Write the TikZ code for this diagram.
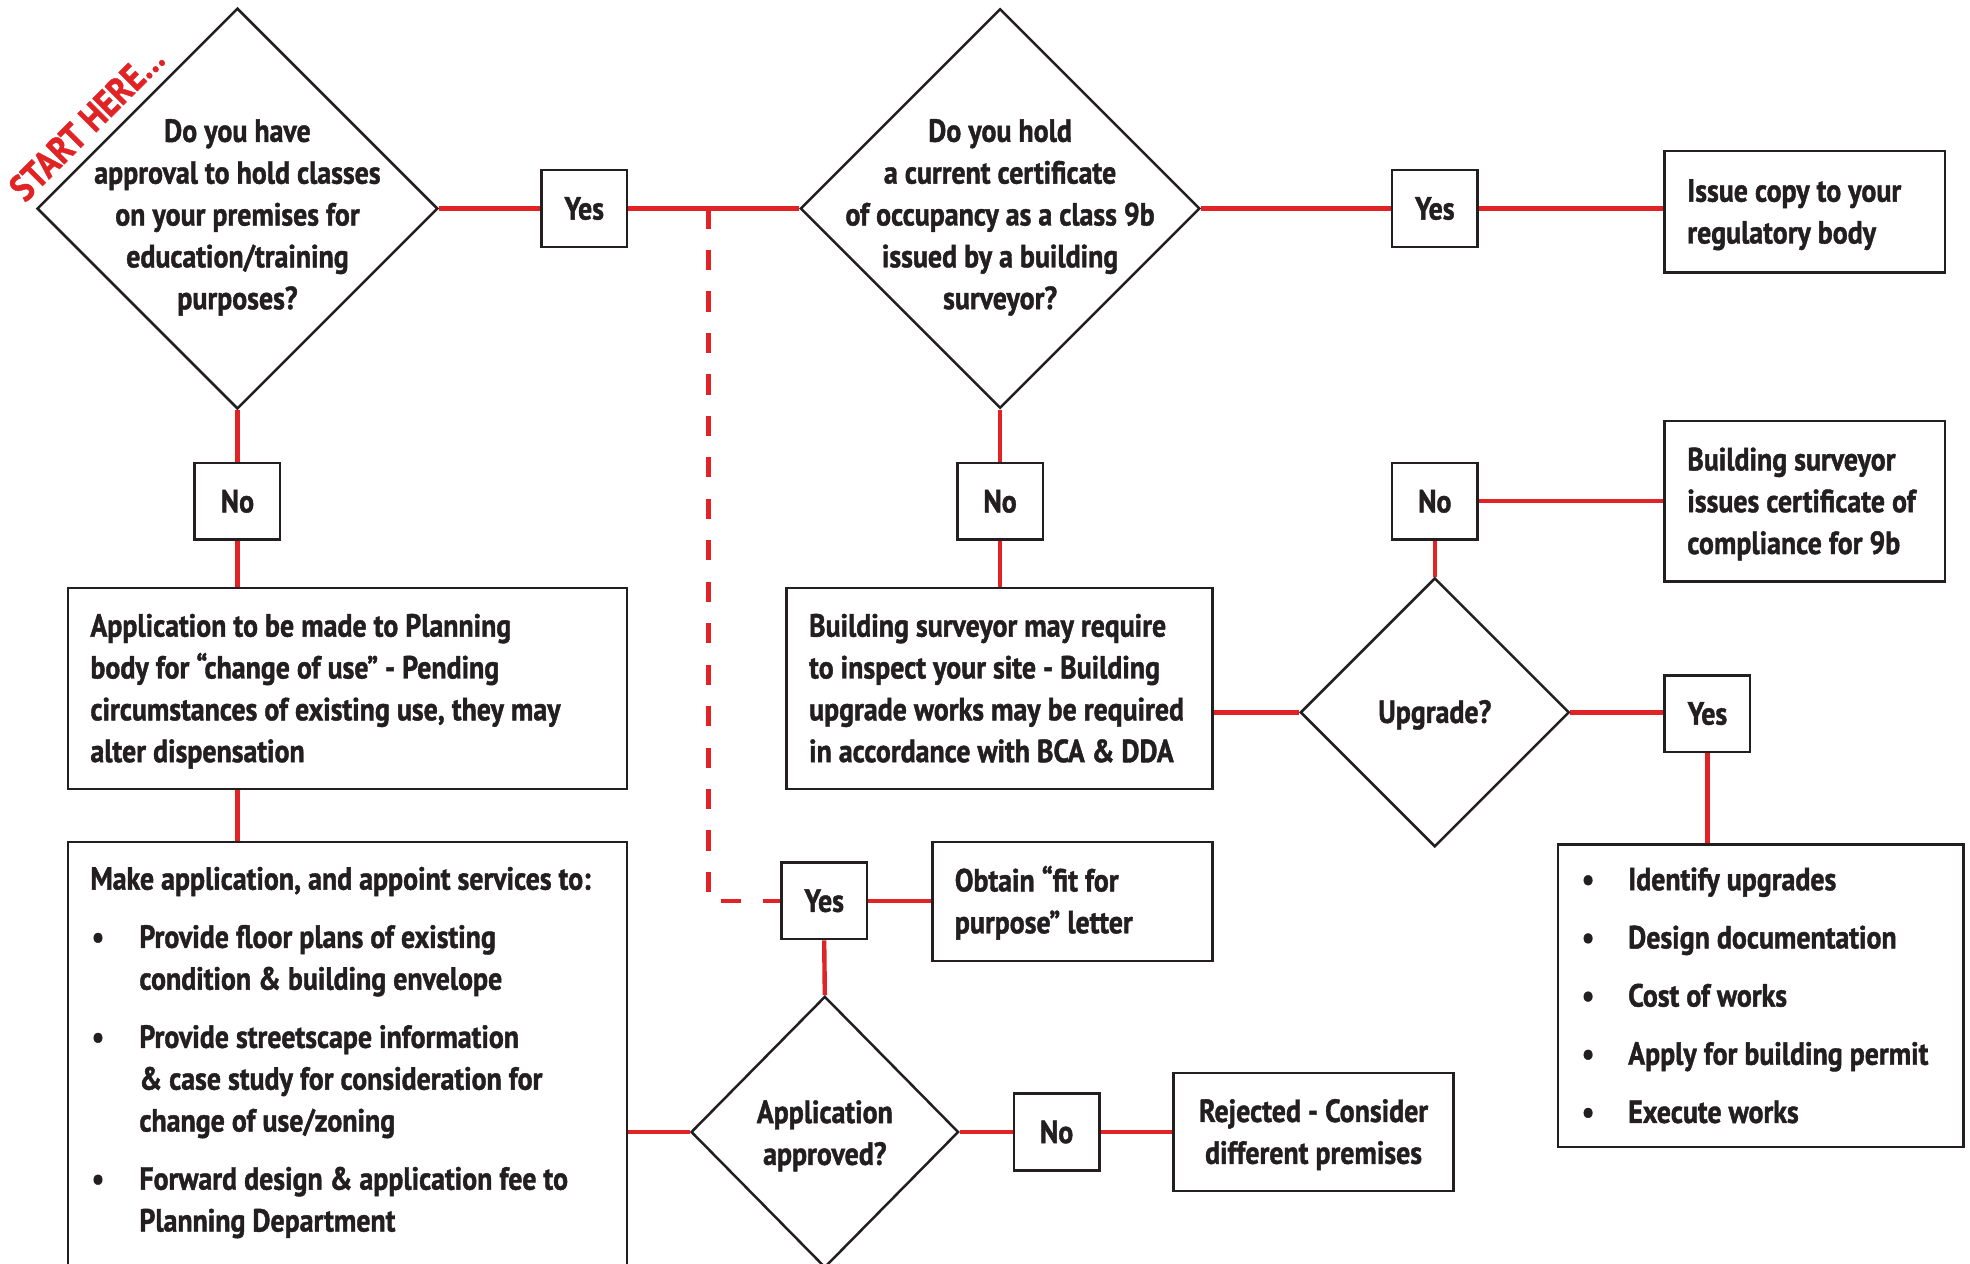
\documentclass[tikz,border=0pt]{standalone}
\usepackage{fontspec}
\setmainfont{PT Sans}[FakeStretch=0.87, BoldFeatures={FakeBold=1.3}]
\usetikzlibrary{shapes.geometric}
\definecolor{myred}{RGB}{226,35,38}
\definecolor{ink}{RGB}{35,31,32}
\newcommand\fsz{\fontsize{25.5pt}{33.3pt}\selectfont\bfseries}
\newcommand\tlines[2]{\raisebox{-2pt}[\height][\depth]{\makebox[#1][l]{\begin{tabular}{@{}l@{}}#2\end{tabular}}}}
\newcommand\bulB{\makebox[39pt][l]{\hspace*{1pt}\textbullet}}
\newcommand\bulE{\makebox[38pt][l]{\hspace*{1pt}\textbullet}}
\pgfdeclarelayer{background}
\pgfsetlayers{background,main}
\tikzset{
  lbl/.style={draw=ink, line width=2pt, fill=white, rectangle, minimum width=68pt, minimum height=61pt, inner sep=0pt},
  dia/.style={draw=ink, line width=2pt, diamond, inner sep=0pt, fill=white},
  boxn/.style={draw=ink, line width=2pt, rectangle, inner xsep=18pt, inner ysep=0pt, fill=white},
  conn/.style={draw=myred, line width=3.5pt},
  dashline/.style={draw=myred, line width=3.5pt, dash pattern=on 16pt off 17pt},
  qtxt/.style={align=center, inner sep=0pt},
}
\begin{document}
\begin{tikzpicture}[x=1pt, y=-1pt, every node/.style={font=\fsz, text=ink}]
\useasboundingbox (0,0) rectangle (1568,1006);
\clip (0,0) rectangle (1568,1006);

% first decision
\node[dia, minimum width=319pt, minimum height=319pt] (d1) at (189,166) {};
\node[qtxt] (d1t) at (189,173) {Do you have\\approval to hold classes\\on your premises for\\education/training\\purposes?};
\node[text=myred, rotate=45, inner sep=0pt, font=\fontsize{30pt}{36pt}\selectfont\bfseries] (start) at (69,98) {START HERE…};
\node[lbl] (y1) at (465,166) {Yes};
\coordinate (j) at (564,166);

% second decision
\node[dia, minimum width=318pt, minimum height=318pt] (d2) at (796,166) {};
\node[qtxt] (d2t) at (796,173) {Do you hold\\a current certificate\\of occupancy as a class 9b\\issued by a building\\surveyor?};
\node[lbl] (y2) at (1142,166) {Yes};
\node[boxn, minimum width=223pt, minimum height=97pt] (issue) at (1436.5,168.5) {\tlines{187pt}{Issue copy to your\\regulatory body}};

% left column
\node[lbl] (n1) at (189,399) {No};
\node[boxn, minimum width=445pt, minimum height=160pt] (boxA) at (276.5,548) {\tlines{409pt}{Application to be made to Planning\\body for “change of use” - Pending\\circumstances of existing use, they may\\alter dispensation}};
\node[boxn, minimum width=445pt, minimum height=345pt] (boxB) at (276.5,842.5) {\tlines{409pt}{Make application, and appoint services to:\\[13pt]
\bulB Provide floor plans of existing\\
\hspace*{39pt}condition \& building envelope\\[13pt]
\bulB Provide streetscape information\\
\hspace*{39pt}\& case study for consideration for\\
\hspace*{39pt}change of use/zoning\\[13pt]
\bulB Forward design \& application fee to\\
\hspace*{39pt}Planning Department\\[14pt]}};

% application approved
\node[dia, minimum width=213pt, minimum height=216pt] (d3) at (656.5,901) {};
\node[qtxt] (d3t) at (656.5,904) {Application\\approved?};
\node[lbl] (y3) at (656,717) {Yes};
\node[boxn, minimum width=223pt, minimum height=95pt] (fit) at (853.5,717.5) {\tlines{187pt}{Obtain “fit for\\purpose” letter}};
\node[lbl] (n3) at (841,901) {No};
\node[boxn, minimum width=223pt, minimum height=94pt, align=center] (rej) at (1045.5,901) {\raisebox{-2pt}[\height][\depth]{\begin{tabular}{@{}c@{}}Rejected - Consider\\different premises\end{tabular}}};

% middle column
\node[lbl] (n2) at (796,399) {No};
\node[boxn, minimum width=339pt, minimum height=160pt] (boxC) at (795.5,548) {\tlines{303pt}{Building surveyor may require\\to inspect your site - Building\\upgrade works may be required\\in accordance with BCA \& DDA}};

% upgrade decision
\node[dia, minimum width=214pt, minimum height=214pt] (d4) at (1142,567) {};
\node[qtxt] (d4t) at (1142,569) {Upgrade?};
\node[lbl] (n4) at (1142,399) {No};
\node[boxn, minimum width=223pt, minimum height=128pt] (boxD) at (1436.5,399) {\tlines{187pt}{Building surveyor\\issues certificate of\\compliance for 9b}};
\node[lbl] (y4) at (1359,568) {Yes};
\node[boxn, minimum width=323pt, minimum height=241pt] (boxE) at (1401.5,792.5) {\tlines{287pt}{\bulE Identify upgrades\\[13pt]
\bulE Design documentation\\[13pt]
\bulE Cost of works\\[13pt]
\bulE Apply for building permit\\[13pt]
\bulE Execute works}};

\begin{pgfonlayer}{background}
\draw[conn] (d1.east) -- (y1.west);
\draw[conn] (y1.east) -- (d2.west);
\draw[dashline] (j) |- (y3.west);
\draw[conn] (d2.east) -- (y2.west);
\draw[conn] (y2.east) -- (issue.west |- y2.east);
\draw[conn] (d1.south) -- (n1.north);
\draw[conn] (n1.south) -- (n1.south |- boxA.north);
\draw[conn] (boxA.south -| n1.south) -- (boxB.north -| n1.south);
\draw[conn] (d3.west -| boxB.east) -- (d3.west);
\draw[conn] (d3.north) -- (y3.south);
\draw[conn] (y3.east) -- (fit.west |- y3.east);
\draw[conn] (d3.east) -- (n3.west);
\draw[conn] (n3.east) -- (rej.west |- n3.east);
\draw[conn] (d2.south) -- (n2.north);
\draw[conn] (n2.south) -- (n2.south |- boxC.north);
\draw[conn] (boxC.east |- d4.west) -- (d4.west);
\draw[conn] (d4.north) -- (n4.south);
\draw[conn] (n4.east) -- (boxD.west |- n4.east);
\draw[conn] (d4.east) -- (y4.west |- d4.east);
\draw[conn] (y4.south) -- (y4.south |- boxE.north);
\end{pgfonlayer}
\end{tikzpicture}
\end{document}
